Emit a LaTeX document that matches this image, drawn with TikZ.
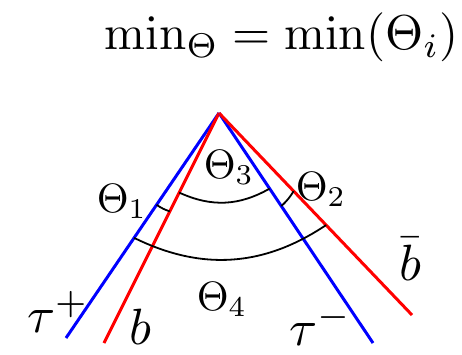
\documentclass[tikz,border=0pt]{standalone}
\usetikzlibrary{calc}
\definecolor{lblue}{RGB}{0,0,255}
\definecolor{lred}{RGB}{255,0,0}
\tikzset{
  trk/.style={line width=3pt},
  arcl/.style={line width=1.8pt, black},
  lab/.style={scale=4.1, inner sep=0pt, anchor=base west},
  plab/.style={scale=5.1, inner sep=0pt, anchor=base west},
}
\begin{document}
\begin{tikzpicture}[x=1pt,y=1pt]
\useasboundingbox (0,0) rectangle (462,354);
\coordinate (A) at (219,241);
\coordinate (Tp) at (66,16);
\coordinate (B) at (104,11);
\coordinate (Tm) at (373,11);
\coordinate (Bb) at (412,39);
\draw[trk, lblue] (A) -- (Tp);
\draw[trk, lred] (A) -- (B);
\draw[trk, lblue] (A) -- (Tm);
\draw[trk, lred] (A) -- (Bb);
% arcs
\draw[arcl] ($(A)!111pt!(Tp)$) to[bend right=8] ($(A)!110pt!(B)$);
\draw[arcl] ($(A)!112pt!(Tm)$) to[bend right=8] ($(A)!108pt!(Bb)$);
\draw[arcl] ($(A)!89pt!(B)$) to[bend right=27] ($(A)!91pt!(Tm)$);
\draw[arcl] ($(A)!151pt!(Tp)$) to[bend right=30] ($(A)!155pt!(Bb)$);
% labels
\node[scale=4.9, inner sep=0pt, anchor=base west] (title) at (104,304) {$\min_\Theta = \min(\Theta_i)$};
\node[lab] (t1) at (96,142) {$\Theta_1$};
\node[lab] (t2) at (295,154) {$\Theta_2$};
\node[lab] (t3) at (203,176) {$\Theta_3$};
\node[lab] (t4) at (196,44) {$\Theta_4$};
\node[plab] (tp) at (26,22) {$\tau^+$};
\node[plab] (lb) at (128,10) {$b$};
\node[plab] (tm) at (288,9) {$\tau^-$};
\node[plab] (lbb) at (398,74) {$\bar b$};
\end{tikzpicture}
\end{document}
